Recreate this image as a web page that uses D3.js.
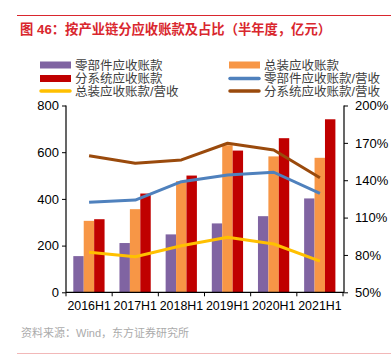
<!DOCTYPE html>
<html><head><meta charset="utf-8">
<script src="https://cdn.jsdelivr.net/npm/d3@7"></script>
<style>body{margin:0;background:#fff}svg{display:block}text{font-family:"Liberation Sans",Arial,"Noto Sans CJK SC",sans-serif}</style>
</head><body><svg id="c" width="391" height="358"></svg>
<script>
const categories = ["2016H1","2017H1","2018H1","2019H1","2020H1","2021H1"];
const partsAR = [155,211,248,295,326,402];
const assemblyAR = [306,356,476,630,582,576];
const systemAR = [313,423,500,607,660,741];
const partsRatio = [122.3,124.1,138.8,144.2,146.4,129.5];
const systemRatio = [159.7,153.6,156.3,169.7,164.3,142];
const assemblyRatio = [82.1,78.6,87.4,94.2,88.8,75.1];
const leftTicks = [0,200,400,600,800];
const rightTicks = [50,80,110,140,170,200];

const barSeries = [
  {name:"零部件应收账款", values:partsAR, color:"#8064a2"},
  {name:"总装应收账款", values:assemblyAR, color:"#f79646"},
  {name:"分系统应收账款", values:systemAR, color:"#c00000"}
];
const lineSeries = [
  {name:"零部件应收账款/营收", values:partsRatio, color:"#4f81bd"},
  {name:"分系统应收账款/营收", values:systemRatio, color:"#9a4a0c"},
  {name:"总装应收账款/营收", values:assemblyRatio, color:"#ffc000"}
];

const svg = d3.select("#c");
const font = '"Liberation Sans",Arial,"Noto Sans CJK SC",sans-serif';
const L = 66, R = 343, T = 105.5, B = 292.3;

// title & frame lines
svg.append("line").attr("x1",17).attr("x2",391).attr("y1",15.5).attr("y2",15.5).attr("stroke","#d9272e").attr("stroke-width",1);
svg.append("text").attr("x",20).attr("y",34).attr("fill","#d9272e").attr("font-size",13.3).attr("font-weight","bold")
  .attr("font-family",'"Noto Sans CJK SC",sans-serif').text("图 46：按产业链分应收账款及占比（半年度，亿元）");
svg.append("text").attr("x",21).attr("y",336.5).attr("fill","#ababab").attr("font-size",11)
  .attr("font-family",'"Noto Sans CJK SC",sans-serif').text("资料来源：Wind，东方证券研究所");
svg.append("line").attr("x1",17).attr("x2",391).attr("y1",353.5).attr("y2",353.5).attr("stroke","#f2b8b8").attr("stroke-width",1);

const x = d3.scaleBand().domain(categories).range([L,R]).paddingInner(0).paddingOuter(0);
const yL = d3.scaleLinear().domain([0,800]).range([B,T]);
const yR = d3.scaleLinear().domain([50,200]).range([B,T]);
const xs = d3.scaleBand().domain([0,1,2]).range([7.3, x.bandwidth()-7.6]).padding(0);

// bars
barSeries.forEach((s,i)=>{
  svg.append("g").selectAll("rect").data(s.values).join("rect")
    .attr("x",(d,j)=>x(categories[j])+xs(i))
    .attr("width",xs.bandwidth())
    .attr("y",d=>yL(d)).attr("height",d=>B-yL(d))
    .attr("fill",s.color);
});

// lines
const line = d3.line().x((d,j)=>x(categories[j])+x.bandwidth()/2).y(d=>yR(d));
lineSeries.forEach(s=>{
  svg.append("path").datum(s.values).attr("d",line).attr("fill","none")
    .attr("stroke",s.color).attr("stroke-width",3).attr("stroke-linejoin","round");
});

// axes
const gL = svg.append("g").attr("transform",`translate(${L},0)`)
  .call(d3.axisLeft(yL).tickValues(leftTicks).tickSize(4).tickPadding(3));
const gR = svg.append("g").attr("transform",`translate(${R+1},0)`)
  .call(d3.axisRight(yR).tickValues(rightTicks).tickFormat(d=>d+"%").tickSize(4).tickPadding(7));
const gX = svg.append("g").attr("transform",`translate(0,${B})`)
  .call(d3.axisBottom(x).tickSize(0).tickPadding(9));
// tick marks on band boundaries
const bounds = categories.map(c=>x(c)).concat([R]);
svg.append("g").selectAll("line").data(bounds).join("line")
  .attr("x1",d=>d).attr("x2",d=>d).attr("y1",B).attr("y2",B+4).attr("stroke","#000");
[gL,gR,gX].forEach(g=>{
  g.selectAll("text").attr("font-size",13).attr("fill","#000").attr("font-family",font);
  g.select(".domain").attr("stroke","#000").attr("stroke-width",1.2);
  g.selectAll(".tick line").attr("stroke","#000");
});
gX.select(".domain").attr("d",`M${L},0H${R+1}`);
gX.selectAll("text").attr("font-size",12.4);
gL.select(".domain").attr("d",`M0,${T}V${B}`);
gR.select(".domain").attr("d",`M0,${T}V${B}`);

// legend
const legend = [
  {name:barSeries[0].name,color:barSeries[0].color,type:"bar",x:40,y:65},
  {name:barSeries[1].name,color:barSeries[1].color,type:"bar",x:229,y:65},
  {name:barSeries[2].name,color:barSeries[2].color,type:"bar",x:40,y:78.5},
  {name:lineSeries[0].name,color:lineSeries[0].color,type:"line",x:229,y:78.5},
  {name:lineSeries[2].name,color:lineSeries[2].color,type:"line",x:40,y:91},
  {name:lineSeries[1].name,color:lineSeries[1].color,type:"line",x:229,y:91}
];
const lg = svg.append("g");
legend.forEach(d=>{
  if(d.type==="bar"){
    lg.append("rect").attr("x",d.x).attr("y",d.y-3.5).attr("width",31).attr("height",7).attr("fill",d.color);
  } else {
    lg.append("line").attr("x1",d.x+1).attr("x2",d.x+30).attr("y1",d.y).attr("y2",d.y)
      .attr("stroke",d.color).attr("stroke-width",3.5).attr("stroke-linecap","round");
  }
  lg.append("text").attr("x",d.x+35).attr("y",d.y).attr("dy","0.36em").attr("font-size",12.5)
    .attr("fill","#404040").attr("font-family",'"Noto Sans CJK SC",sans-serif').text(d.name);
});
</script></body></html>
